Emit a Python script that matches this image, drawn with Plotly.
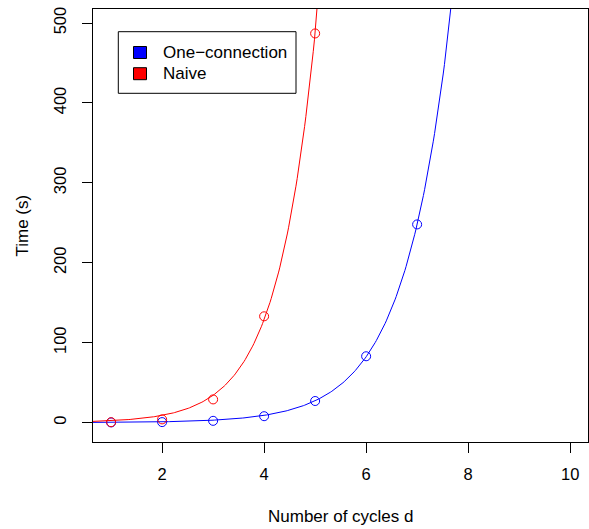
import numpy as np
import plotly.graph_objects as go

# Data
one_x = [1, 2, 3, 4, 5, 6, 7]
one_y = [0.2, 0.6, 2.2, 8, 27, 83, 248]
naive_x = [1, 2, 3, 4, 5]
naive_y = [0.5, 4, 29, 133, 487]

x_ticks = [2, 4, 6, 8, 10]
y_ticks = [0, 100, 200, 300, 400, 500]
x_range = [0.645, 10.35]
y_range = [-24.3, 517.6]

legend_names = ["One\u2212connection", "Naive"]

BLUE = "#0000FF"
RED = "#FF0000"
FONT = "Liberation Sans, Arial, sans-serif"

W, H = 589, 529
ML, MR, MT, MB = 93, 1, 9, 87
PW, PH = W - ML - MR, H - MT - MB


def px(x):
    return (x - ML) / PW


def py(y):
    return 1 - (y - MT) / PH


def exp_fit(xs, ys):
    """Least-squares fit of y = a*exp(b*x) (Gauss-Newton)."""
    xs = np.asarray(xs, float)
    ys = np.asarray(ys, float)
    b, loga = np.polyfit(xs, np.log(ys), 1)
    a = np.exp(loga)
    for _ in range(200):
        e = np.exp(b * xs)
        r = ys - a * e
        J = np.column_stack([e, a * xs * e])
        step, *_ = np.linalg.lstsq(J, r, rcond=None)
        a += step[0]
        b += step[1]
        if np.max(np.abs(step)) < 1e-12:
            break
    return a, b


cx = np.linspace(x_range[0], x_range[1], 401)
fig = go.Figure()

for xs, ys, col in [(one_x, one_y, BLUE), (naive_x, naive_y, RED)]:
    a, b = exp_fit(xs, ys)
    fig.add_trace(go.Scatter(x=cx, y=a * np.exp(b * cx), mode="lines",
                             line=dict(color=col, width=1), showlegend=False,
                             hoverinfo="skip"))
    fig.add_trace(go.Scatter(x=xs, y=ys, mode="markers",
                             marker=dict(symbol="circle-open", size=9,
                                         color=col, line=dict(width=1, color=col)),
                             showlegend=False))

axis_common = dict(showline=True, mirror=True, linecolor="black", linewidth=1,
                   ticks="outside", ticklen=10, tickwidth=1, tickcolor="black",
                   showgrid=False, zeroline=False,
                   tickfont=dict(family=FONT, size=16.5, color="black"))

# manual legend (R style)
shapes = [dict(type="rect", xref="paper", yref="paper",
               x0=px(118.3), x1=px(296), y0=py(93.3), y1=py(31.7),
               line=dict(color="black", width=1), fillcolor="white", layer="above")]
annotations = []
row_centers = [52.5, 73.7]
for name, col, cy in zip(legend_names, [BLUE, RED], row_centers):
    shapes.append(dict(type="rect", xref="paper", yref="paper",
                       x0=px(133.5), x1=px(146.5), y0=py(cy + 6), y1=py(cy - 6),
                       line=dict(color="black", width=1), fillcolor=col, layer="above"))
    annotations.append(dict(text=name, xref="paper", yref="paper",
                            x=px(161), y=py(cy), xanchor="left", yanchor="middle",
                            showarrow=False, font=dict(family=FONT, size=17)))

annotations += [
    dict(text="Number of cycles d", x=0.5, xref="paper", y=py(516),
         yref="paper", showarrow=False, xanchor="center", yanchor="middle",
         font=dict(family=FONT, size=17)),
    dict(text="Time (s)", x=px(22), xref="paper", y=0.5, yref="paper",
         showarrow=False, textangle=-90, xanchor="center", yanchor="middle",
         font=dict(family=FONT, size=17)),
]

fig.update_layout(
    width=W, height=H,
    margin=dict(l=ML, r=MR, t=MT, b=MB),
    paper_bgcolor="white", plot_bgcolor="white",
    font=dict(family=FONT, size=17, color="black"),
    xaxis=dict(range=x_range, tickvals=x_ticks, ticklabelstandoff=7, **axis_common),
    yaxis=dict(range=y_range, tickvals=y_ticks, tickangle=-90,
               ticklabelstandoff=9, **axis_common),
    showlegend=False,
    shapes=shapes,
    annotations=annotations,
)

fig.write_html("out.html", config={"displayModeBar": False},
               post_script="document.body.style.margin='0';"
                           "document.body.style.overflow='hidden';")
